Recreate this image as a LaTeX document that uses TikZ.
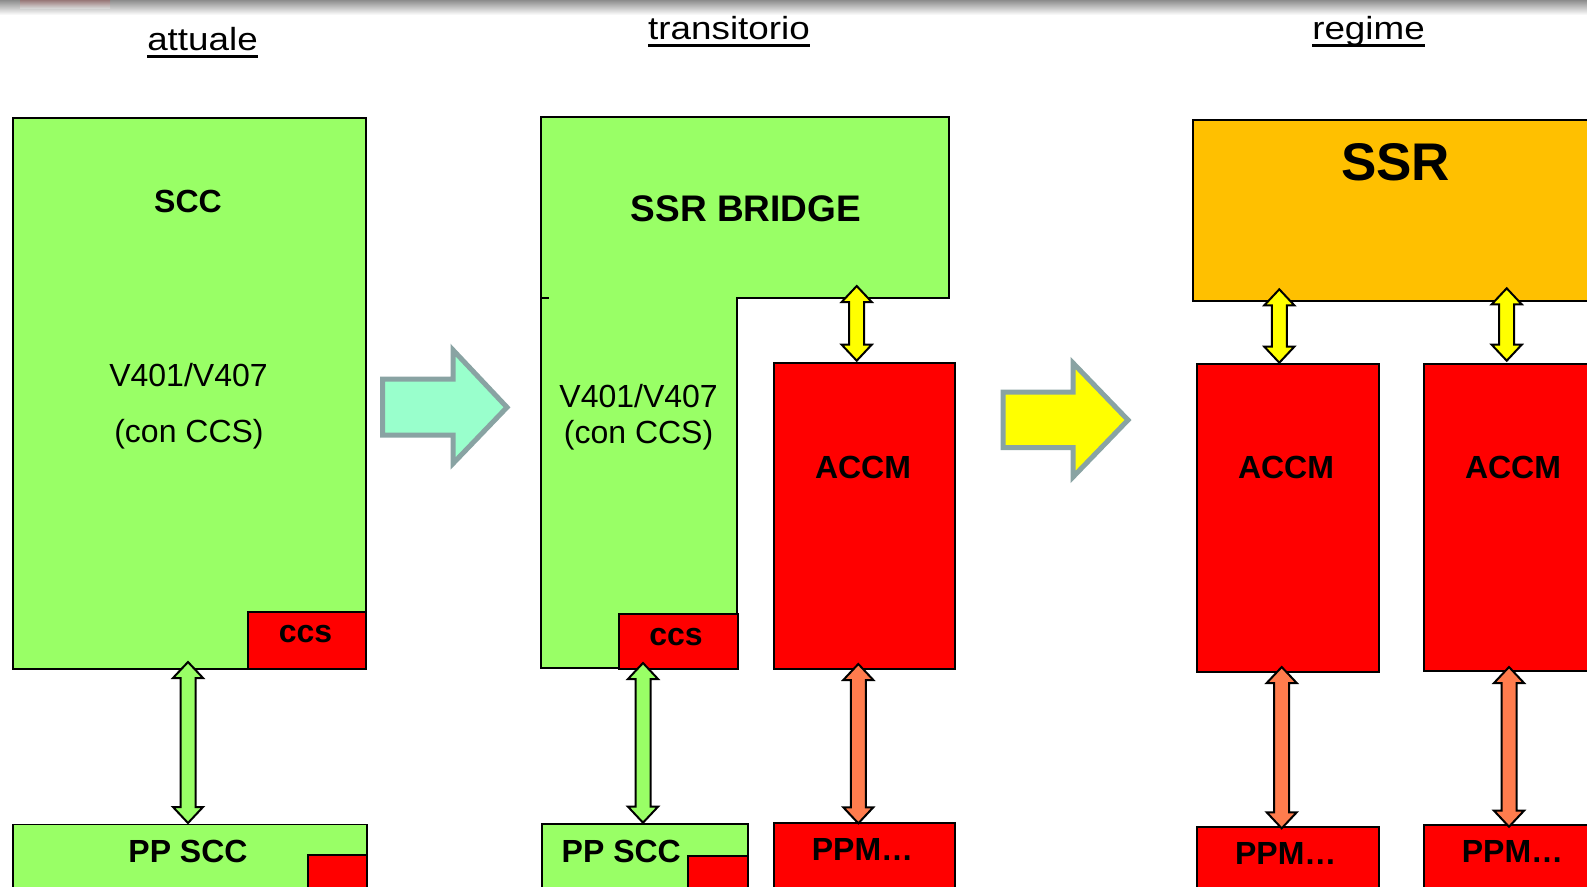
\documentclass[tikz,border=0pt]{standalone}
\usepackage{fontspec}
\setmainfont{Liberation Sans}
\usetikzlibrary{calc}
\definecolor{grn}{RGB}{153,255,102}
\definecolor{rd}{RGB}{255,0,0}
\definecolor{ssror}{RGB}{255,192,0}
\definecolor{coral}{RGB}{255,124,77}
\definecolor{yel}{RGB}{255,255,0}
\definecolor{mint}{RGB}{153,255,204}
\definecolor{arrgray}{RGB}{137,163,163}
\tikzset{
  box/.style={draw=black, line width=1.8pt, inner sep=0pt, anchor=north west},
  lbl/.style={inner sep=0pt, anchor=base, font=\fontsize{32}{38}\selectfont\bfseries},
  reg/.style={inner sep=0pt, anchor=base, font=\fontsize{32}{38}\selectfont},
  ttl/.style={inner sep=0pt, anchor=base, font=\fontsize{32}{38}\selectfont},
  fatline/.style={draw=black, line width=2pt},
  blockarr/.style={draw=arrgray, line width=5pt},
}
\newcommand\dblfat[3]{%
  \draw[fatline, fill=#1] let \p1=(#2), \p2=(#3) in
   (\x1,\y1) -- ({\x1+15pt},{\y1-16pt}) -- ({\x1+7.5pt},{\y1-16pt}) --
   ({\x1+7.5pt},{\y2+16pt}) -- ({\x1+15pt},{\y2+16pt}) -- (\x1,\y2) --
   ({\x1-15pt},{\y2+16pt}) -- ({\x1-7.5pt},{\y2+16pt}) --
   ({\x1-7.5pt},{\y1-16pt}) -- ({\x1-15pt},{\y1-16pt}) -- cycle;}
\begin{document}
\begin{tikzpicture}[x=1pt,y=-1pt]
\useasboundingbox (0,0) rectangle (1587,886);
\clip (0,0) rectangle (1587,886);
\fill[white] (0,0) rectangle (1587,886);
% top shadow
\shade[top color=black!45, bottom color=white] (0,0) rectangle (1587,15);
\shade[top color=red!50!gray, bottom color=white, opacity=0.25] (20,0) rectangle (110,8);

% titles
\node[ttl] (t1) at (202.5,50) {\scalebox{1.15}[1]{attuale}};
\node[ttl] (t2) at (729,39.5) {\scalebox{1.15}[1]{transitorio}};
\node[ttl] (t3) at (1368.5,39.5) {\scalebox{1.15}[1]{regime}};
\foreach \t in {t1,t2,t3}
  \draw[line width=3pt] ([yshift=-6pt]\t.base west) -- ([yshift=-6pt]\t.base east);

% ---------- left column ----------
\node[box, fill=grn, minimum width=353pt, minimum height=551pt] (scc) at (12,117) {};
\node[box, fill=rd, minimum width=118pt, minimum height=57pt] (ccs1) at (247,611) {};
\node[lbl] (sccl) at (188,212.7) {SCC};
\node[reg] (v1) at (188.5,386.7) {V401/V407};
\node[reg] (c1) at (189,442.7) {(con CCS)};
\node[lbl] (ccs1l) at (305.6,642.8) {ccs};
\node[box, fill=grn, minimum width=354pt, minimum height=90pt] (pp1) at (12,823.5) {};
\node[box, fill=rd, minimum width=59pt, minimum height=60pt] (ppr1) at (306.7,854.3) {};
\node[lbl] (pp1l) at (188,862) {PP SCC};
\coordinate (g1a) at (188,662);
\coordinate (g1b) at (188,823);
\dblfat{grn}{g1a}{g1b}

% block arrow 1
\draw[blockarr, fill=mint] (382.5,379) -- (453,379) -- (453,350) -- (507,407.3) --
  (453,463.5) -- (453,435) -- (382.5,435) -- cycle;

% ---------- middle column ----------
\draw[fill=grn, line width=1.8pt] (541,117) -- (949,117) -- (949,298) -- (736.7,298) --
  (736.7,668) -- (541,668) -- cycle;
\draw[line width=1.8pt] (541,298) -- (549,298);
\node[lbl, font=\fontsize{37}{44}\selectfont\bfseries] (bridgel) at (746,221.7) {SSR BRIDGE};
\node[reg] (v2) at (638.6,407) {V401/V407};
\node[reg] (c2) at (638.6,443.5) {(con CCS)};
\node[box, fill=rd, minimum width=118.3pt, minimum height=55pt] (ccs2) at (618.4,613) {};
\node[lbl] (ccs2l) at (676,645) {ccs};
\node[box, fill=grn, minimum width=205.7pt, minimum height=90pt] (pp2) at (541,823) {};
\node[box, fill=rd, minimum width=60pt, minimum height=60pt] (ppr2) at (686.7,855) {};
\node[lbl] (pp2l) at (621.3,862) {PP SCC};
\node[box, fill=rd, minimum width=181pt, minimum height=306pt] (accm2) at (773.3,362.3) {};
\node[lbl] (accm2l) at (863,478.8) {ACCM};
\node[box, fill=rd, minimum width=181pt, minimum height=90pt] (ppm2) at (773.3,822.3) {};
\node[lbl] (ppm2l) at (862.5,860) {PPM\ldots};
\coordinate (g2a) at (643,663);
\coordinate (g2b) at (643,822.7);
\dblfat{grn}{g2a}{g2b}
\coordinate (y2a) at (856.7,286);
\coordinate (y2b) at (856.7,360.7);
\dblfat{yel}{y2a}{y2b}
\coordinate (o2a) at (858.3,664);
\coordinate (o2b) at (858.3,823.3);
\dblfat{coral}{o2a}{o2b}

% block arrow 2
\draw[blockarr, fill=yel] (1003,392) -- (1073,392) -- (1073,363) -- (1128,420) --
  (1073,477) -- (1073,447.5) -- (1003,447.5) -- cycle;

% ---------- right column ----------
\node[box, fill=ssror, minimum width=420pt, minimum height=181pt] (ssr) at (1192,119) {};
\node[lbl, font=\fontsize{53}{60}\selectfont\bfseries] (ssrl) at (1395.6,180) {SSR};
\node[box, fill=rd, minimum width=181.7pt, minimum height=308pt] (accm3a) at (1196,363.3) {};
\node[lbl] (accm3al) at (1286,478.8) {ACCM};
\node[box, fill=rd, minimum width=200pt, minimum height=307pt] (accm3b) at (1422.7,363.3) {};
\node[lbl] (accm3bl) at (1513,478.8) {ACCM};
\node[box, fill=rd, minimum width=182.3pt, minimum height=90pt] (ppm3a) at (1196,825.7) {};
\node[lbl] (ppm3al) at (1285.8,864) {PPM\ldots};
\node[box, fill=rd, minimum width=200pt, minimum height=90pt] (ppm3b) at (1422.7,824) {};
\node[lbl] (ppm3bl) at (1512.5,862.3) {PPM\ldots};
\coordinate (y3a) at (1279.3,289.3);
\coordinate (y3b) at (1279.3,362.7);
\dblfat{yel}{y3a}{y3b}
\coordinate (y3c) at (1506.7,288.3);
\coordinate (y3d) at (1506.7,360.7);
\dblfat{yel}{y3c}{y3d}
\coordinate (o3a) at (1281.7,667);
\coordinate (o3b) at (1281.7,828.3);
\dblfat{coral}{o3a}{o3b}
\coordinate (o3c) at (1509,667);
\coordinate (o3d) at (1509,826.7);
\dblfat{coral}{o3c}{o3d}
\end{tikzpicture}
\end{document}
